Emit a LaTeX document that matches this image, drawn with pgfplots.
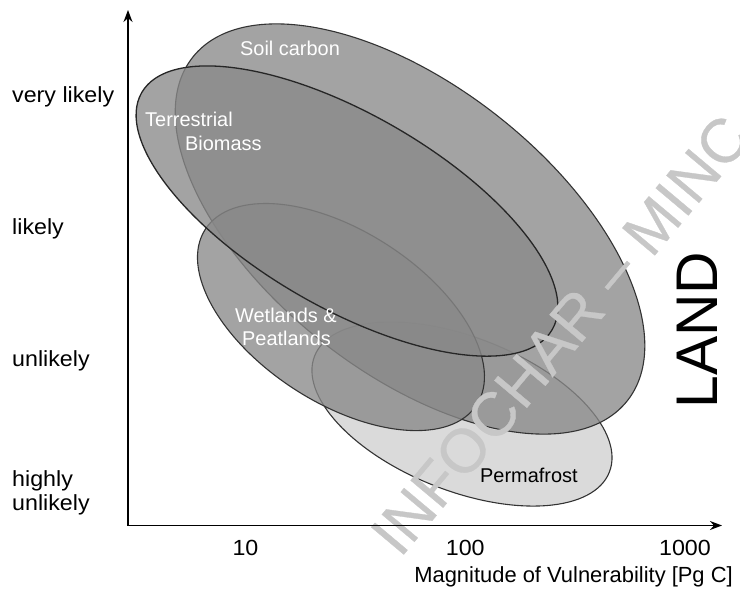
\documentclass[border=0pt]{standalone}
\usepackage{pgfplots}
\pgfplotsset{compat=1.18}
\usepackage{fontspec}
\setmainfont{Liberation Sans}
\newfontfamily\widefont{Liberation Sans}[FakeStretch=1.06]
\newfontfamily\wmfont{Liberation Sans}[FakeBold=0.5]
\usetikzlibrary{arrows.meta}

\definecolor{ellfill}{gray}{0.537}
\definecolor{permfill}{gray}{0.855}
\definecolor{edge}{gray}{0.2}
\definecolor{wmark}{gray}{0.78}

% ellipse table: centre (magnitude, likelihood), semi-axes [bp], rotation [deg]
% Permafrost      96.65  1.598  158.4  76.7  -21.5
% Soil carbon     56.07  3.000  277    143   -38.3
% Wetlands        27.20  2.333  161.6  85.8  -32.9
% Terr. Biomass   28.97  3.136  237    96.7  -30.0

\begin{document}
\begin{tikzpicture}
\path[use as bounding box] (0bp,0bp) rectangle (740bp,607bp);
\begin{axis}[
  at={(128bp,81.5bp)}, anchor=south west,
  scale only axis, width=594bp, height=515.5bp,
  xmode=log, xmin=2.92, xmax=1474, ymin=0.754, ymax=4.659,
  axis lines=left,
  axis line style={line width=1.6bp, -{Stealth[length=12bp,width=9bp]}},
  xtick={10,100,1000}, xticklabels={10,100,1000},
  ytick={1,2,3,4},
  yticklabels={{highly\\unlikely},{unlikely},{likely},{very likely}},
  xminorticks=false, yminorticks=false,
  major tick length=0pt,
  tick label style={font=\widefont\fontsize{22}{24}\selectfont},
  yticklabel style={anchor=west, align=left, inner sep=0pt, xshift=-116bp},
  xticklabel style={anchor=north, inner sep=0pt, yshift=-14.5bp},
  clip=false, axis on top,
]
% Permafrost
\draw[edge, line width=1.1bp, fill=permfill,
  rotate around={-21.5:(axis cs:96.65,1.598)}]
  (axis cs:96.65,1.598) ellipse [x radius=158.4bp, y radius=76.7bp];
% Soil carbon
\draw[edge, line width=1.1bp, fill=ellfill, fill opacity=0.78,
  rotate around={-38.3:(axis cs:56.07,3.0)}]
  (axis cs:56.07,3.0) ellipse [x radius=277bp, y radius=143bp];
% Wetlands & Peatlands
\draw[edge, line width=1.1bp, fill=ellfill, fill opacity=0.78,
  rotate around={-32.9:(axis cs:27.20,2.333)}]
  (axis cs:27.20,2.333) ellipse [x radius=161.6bp, y radius=85.8bp];
% Terrestrial Biomass
\draw[black!85, line width=1.3bp, fill=ellfill, fill opacity=0.78,
  rotate around={-30:(axis cs:28.97,3.136)}]
  (axis cs:28.97,3.136) ellipse [x radius=237bp, y radius=96.7bp];

\begin{scope}[every node/.style={inner sep=0pt, font=\fontsize{20}{22}\selectfont}]
\node[white, anchor=base west] at (axis cs:9.44,4.318) {Soil carbon};
\node[white, anchor=base west] at (axis cs:3.49,3.780) {Terrestrial};
\node[white, anchor=base west] at (axis cs:5.305,3.598) {Biomass};
\node[white, anchor=base west] at (axis cs:8.96,2.295) {Wetlands \&};
\node[white, anchor=base west] at (axis cs:9.64,2.121) {Peatlands};
\node[black, anchor=base west] at (axis cs:116.7,1.083) {Permafrost};
\end{scope}

\node[rotate=90, inner sep=0pt, font=\fontsize{59}{61}\selectfont] at (axis cs:1134,2.235) {LAND};
\node[anchor=base east, inner sep=0pt, font=\fontsize{22}{24}\selectfont] at (axis cs:1653,0.3258) {Magnitude of Vulnerability [Pg C]};

% watermark
\node[anchor=base west, rotate=50, inner sep=0pt, text=wmark,
  font=\wmfont\fontsize{62}{64}\selectfont] at (axis cs:50.5,0.50) {INFOCHAR – MINC};
\end{axis}
\end{tikzpicture}
\end{document}
